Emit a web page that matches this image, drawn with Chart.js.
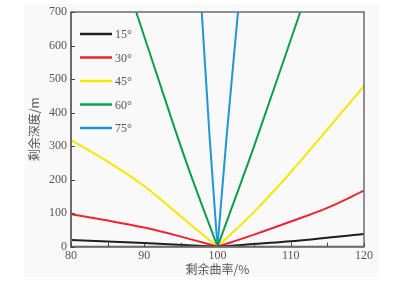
<!DOCTYPE html>
<html>
<head>
<meta charset="utf-8">
<script src="https://cdn.jsdelivr.net/npm/chart.js@4.4.1/dist/chart.umd.min.js"></script>
<style>
  html, body { margin: 0; padding: 0; background: #ffffff; }
  #wrap { position: relative; width: 393px; height: 285px; }
  #bg { position: absolute; left: 24px; top: 4px; width: 355px; height: 273px; background: #f9f9f9; }
  #chart { position: absolute; left: 0; top: 0; }
</style>
</head>
<body>
<div id="wrap">
  <div id="bg"></div>
  <canvas id="chart" width="393" height="285"></canvas>
</div>
<script>
// values
const seriesLabels = ["15°", "30°", "45°", "60°", "75°"];

const curv15 = [80, 90, 100, 110, 120];
const depth15 = [20, 11, 0, 16, 38];

const curv30 = [80, 85, 90, 95, 100, 105, 110, 115, 120];
const depth30 = [97, 78, 57, 30, 0, 36, 75, 116, 167];

const curv45 = [80, 85, 90, 95, 100, 105, 110, 115, 120];
const depth45 = [318, 254, 181, 90, 0, 104, 222, 350, 479];

const curv60 = [88.9, 94.2, 96.1, 100, 105, 111.3];
const depth60 = [700, 350, 230, 0, 300, 700];

const curv75 = [97.85, 98.9, 100, 101.25, 102.8];
const depth75 = [700, 335, 0, 330, 700];

const seriesColors = ["#1e1e1e", "#ee2530", "#f7e600", "#0c9e4c", "#2196d3"];

const xTickMarks = [80, 85, 90, 95, 100, 105, 110, 115, 120];
const yTickMarks = [0, 100, 200, 300, 400, 500, 600, 700];

const allX = [curv15, curv30, curv45, curv60, curv75];
const allY = [depth15, depth30, depth45, depth60, depth75];

// each curve is a V: draw the two branches separately so the tip stays sharp
function branch(xs, ys, leftSide) {
  const pts = [];
  xs.forEach((x, i) => {
    if (leftSide ? x <= 100 : x >= 100) pts.push({ x: x, y: ys[i] });
  });
  return pts;
}

const datasets = [];
seriesLabels.forEach((label, i) => {
  [true, false].forEach((leftSide) => {
    datasets.push({
      label: label,
      data: branch(allX[i], allY[i], leftSide),
      borderColor: seriesColors[i],
      backgroundColor: seriesColors[i],
      borderWidth: 2,
      pointRadius: 0,
      cubicInterpolationMode: "monotone",
      fill: false,
    });
  });
});

// frame, inward tick marks and the legend inside the plot
const framePlugin = {
  id: "frame",
  afterDatasetsDraw(chart) {
    const ctx = chart.ctx;
    const a = chart.chartArea;
    const xs = chart.scales.x;
    const ys = chart.scales.y;
    ctx.save();
    ctx.strokeStyle = "#6c6c6c";
    ctx.lineWidth = 1.5;
    ctx.strokeRect(a.left, a.top, a.right - a.left, a.bottom - a.top);
    ctx.lineWidth = 2;
    ctx.beginPath();
    ctx.moveTo(a.left, a.top);
    ctx.lineTo(a.left, a.bottom);
    ctx.lineTo(a.right, a.bottom);
    ctx.stroke();

    ctx.lineWidth = 1;
    ctx.strokeStyle = "#444";
    xTickMarks.forEach((v) => {
      const px = Math.round(xs.getPixelForValue(v)) + 0.5;
      ctx.beginPath();
      ctx.moveTo(px, a.bottom);
      ctx.lineTo(px, a.bottom - 4);
      ctx.stroke();
    });
    yTickMarks.forEach((v) => {
      const py = Math.round(ys.getPixelForValue(v)) + 0.5;
      ctx.beginPath();
      ctx.moveTo(a.left, py);
      ctx.lineTo(a.left + 4, py);
      ctx.stroke();
    });

    // legend
    ctx.font = "12px 'Liberation Serif'";
    ctx.textBaseline = "middle";
    ctx.textAlign = "left";
    seriesLabels.forEach((label, i) => {
      const y = 34 + i * 23.5;
      ctx.strokeStyle = seriesColors[i];
      ctx.lineWidth = 2.5;
      ctx.beginPath();
      ctx.moveTo(80, y);
      ctx.lineTo(112, y);
      ctx.stroke();
      ctx.fillStyle = "#555";
      ctx.fillText(label, 115, y + 1);
    });
    ctx.restore();
  },
};

new Chart(document.getElementById("chart"), {
  type: "line",
  data: { datasets: datasets },
  plugins: [framePlugin],
  options: {
    responsive: false,
    animation: false,
    devicePixelRatio: 1,
    layout: { padding: { left: 0, right: 29, top: 12, bottom: 0 } },
    plugins: {
      legend: { display: false },
      tooltip: { enabled: false },
    },
    scales: {
      x: {
        type: "linear",
        min: 80,
        max: 120,
        grid: { display: false, drawTicks: false },
        border: { display: false },
        ticks: {
          stepSize: 10,
          padding: 2,
          color: "#555",
          font: { family: "'Liberation Serif'", size: 12 },
        },
        title: {
          display: true,
          text: "剩余曲率/%",
          color: "#555",
          font: { family: "'Noto Sans CJK SC'", size: 12 },
          padding: { top: 0, bottom: 8 },
        },
        afterFit: (s) => { s.height = 38.3; },
      },
      y: {
        type: "linear",
        min: 0,
        max: 700,
        grid: { display: false, drawTicks: false },
        border: { display: false },
        ticks: {
          stepSize: 100,
          padding: 4,
          color: "#555",
          font: { family: "'Liberation Serif'", size: 12 },
        },
        title: {
          display: true,
          text: "剩余深度/m",
          color: "#555",
          font: { family: "'Noto Sans CJK SC'", size: 12 },
          padding: { top: 27, bottom: 0 },
        },
        afterFit: (s) => { s.width = 71; },
      },
    },
  },
});
</script>
</body>
</html>
